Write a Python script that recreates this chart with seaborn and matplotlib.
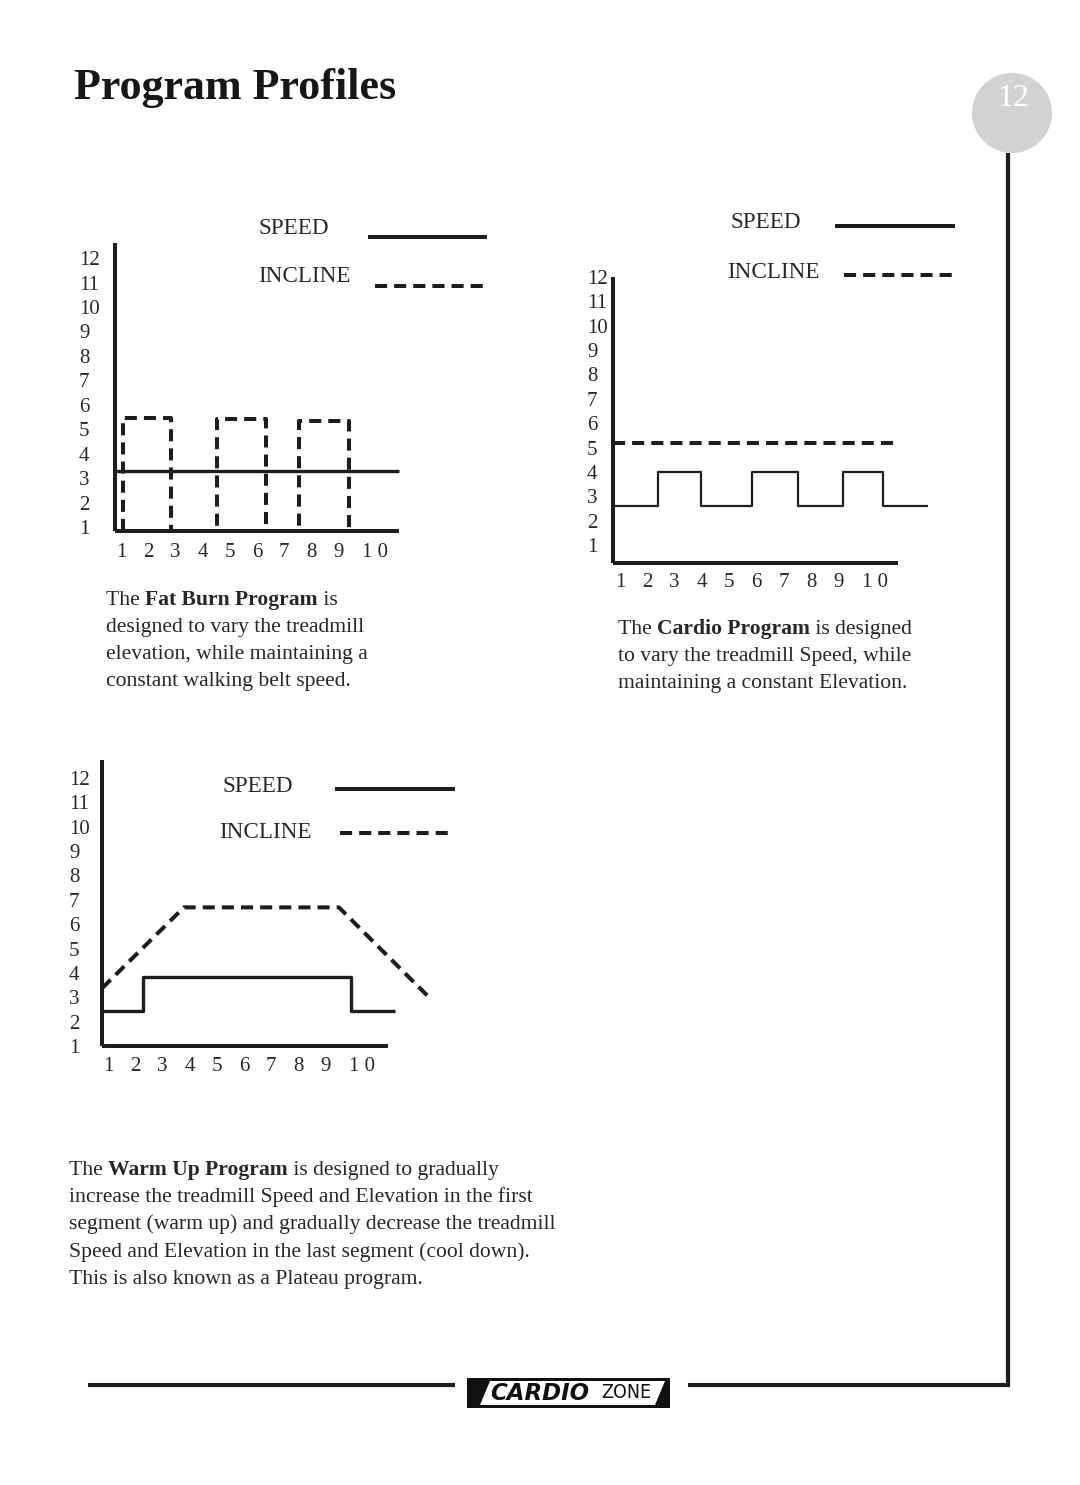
import numpy as np
import pandas as pd
import seaborn as sns
import matplotlib
matplotlib.use("Agg")
import matplotlib.pyplot as plt
import matplotlib.transforms as mtransforms
from matplotlib.lines import Line2D
from matplotlib.patches import Circle, Polygon, Rectangle

# ---------------- data ----------------
levels = list(range(1, 13))
level_labels = [str(v) for v in levels]
segments = list(range(1, 11))
segment_labels = ["1", "2", "3", "4", "5", "6", "7", "8", "9", "1 0"]

# Fat Burn: constant speed, incline pulses
fatburn_speed_x = [0.78, 11.22]
fatburn_speed_y = [3.29, 3.29]
fatburn_incline_x = [1.07, 1.07, 2.84, 2.84, 4.53, 4.53, 6.33, 6.33, 7.54, 7.54, 9.38, 9.38]
fatburn_incline_y = [0.84, 5.46, 5.46, 0.84, 0.84, 5.42, 5.42, 0.84, 0.84, 5.34, 5.34, 0.84]

# Cardio: speed intervals, constant incline
cardio_speed_x = [0.74, 2.39, 2.39, 3.97, 3.97, 5.84, 5.84, 7.52, 7.52, 9.17, 9.17, 10.63, 10.63, 12.28]
cardio_speed_y = [2.60, 2.60, 4.00, 4.00, 2.60, 2.60, 4.00, 4.00, 2.60, 2.60, 4.00, 4.00, 2.60, 2.60]
cardio_incline_x = [0.74, 11.18]
cardio_incline_y = [5.19, 5.19]

# Warm Up: plateau
warmup_speed_x = [0.78, 2.29, 2.29, 9.93, 9.93, 11.54]
warmup_speed_y = [2.43, 2.43, 3.82, 3.82, 2.43, 2.43]
warmup_incline_x = [0.78, 3.79, 9.49, 12.91]
warmup_incline_y = [3.37, 6.69, 6.69, 2.88]

# ---------------- setup ----------------
W, H = 1080, 1485
sns.set_theme(style="white")
plt.rcParams["font.family"] = ["Liberation Serif", "DejaVu Serif"]
INK = "#1e1c1c"
TXT = "#2a2626"

fig = plt.figure(figsize=(W / 100, H / 100), dpi=100)
fig.patch.set_facecolor("white")


def fx(px):
    return px / W


def fy(py):
    return 1 - py / H


DASH = (0, (3.0, 1.75))
TICK = 15


def make_axes(left, right, top, bottom, x1px, xstep, y1px, ystep, ypad_px, xpad_px):
    ax = fig.add_axes([fx(left), fy(bottom), (right - left) / W, (bottom - top) / H])
    ax.set_facecolor("none")
    ax.set_xlim(1 + (left - x1px) / xstep, 1 + (right - x1px) / xstep)
    ax.set_ylim(1 - (bottom - y1px) / ystep, 1 + (y1px - top) / ystep)
    for s in ["top", "right"]:
        ax.spines[s].set_visible(False)
    for s in ["left", "bottom"]:
        ax.spines[s].set_linewidth(2.9)
        ax.spines[s].set_color(INK)
        ax.spines[s].set_capstyle("butt")
    ax.set_yticks(levels)
    ax.set_yticklabels(level_labels)
    ax.set_xticks(segments)
    ax.set_xticklabels(segment_labels)
    ax.tick_params(axis="y", length=0, pad=ypad_px * 0.72, labelsize=TICK, labelcolor=TXT)
    ax.tick_params(axis="x", length=0, pad=xpad_px * 0.72, labelsize=TICK, labelcolor=TXT)
    for lab in ax.get_yticklabels():
        lab.set_ha("left")
    last = ax.get_xticklabels()[-1]
    last.set_ha("left")
    last.set_transform(last.get_transform() +
                       mtransforms.ScaledTranslation(-4 / 100, 0, fig.dpi_scale_trans))
    ax.grid(False)
    ax.set_xlabel("")
    ax.set_ylabel("")
    return ax


def series(ax, xs, ys, lw, dashed=False):
    df = pd.DataFrame({"segment": xs, "level": ys})
    kws = dict(linestyle=DASH) if dashed else dict(solid_capstyle="butt")
    sns.lineplot(data=df, x="segment", y="level", sort=False, estimator=None,
                 color=INK, linewidth=lw, clip_on=False, ax=ax, **kws)
    ax.set_xlabel("")
    ax.set_ylabel("")


LEG = 16.7


def legend_block(sx, sy, lx0, lx1, ly, ix, iy, dx0, dx1, dy):
    fig.text(fx(sx), fy(sy), "SPEED", fontsize=LEG, color=TXT, ha="left", va="center")
    fig.add_artist(Line2D([fx(lx0), fx(lx1)], [fy(ly), fy(ly)], color=INK, lw=2.9,
                          solid_capstyle="butt"))
    fig.text(fx(ix), fy(iy), "INCLINE", fontsize=LEG, color=TXT, ha="left", va="center")
    fig.add_artist(Line2D([fx(dx0), fx(dx1)], [fy(dy), fy(dy)], color=INK, lw=2.9,
                          linestyle=DASH))


# ---------------- chart 1: Fat Burn ----------------
ax1 = make_axes(115, 399, 243, 531, 121, 27.2, 527, 24.45, 36, 12)
series(ax1, fatburn_incline_x, fatburn_incline_y, 2.9, dashed=True)
series(ax1, fatburn_speed_x, fatburn_speed_y, 2.4)
legend_block(259, 228, 368, 487, 237, 258, 277, 375, 487, 286)

# ---------------- chart 2: Cardio ----------------
ax2 = make_axes(613, 898, 277, 563, 620, 27.3, 545, 24.36, 26, 10)
series(ax2, cardio_incline_x, cardio_incline_y, 2.9, dashed=True)
series(ax2, cardio_speed_x, cardio_speed_y, 1.6)
legend_block(730, 223, 835, 955, 226, 727, 272, 844, 955, 275)

# ---------------- chart 3: Warm Up ----------------
ax3 = make_axes(102, 388, 760, 1046, 108, 27.2, 1047, 24.45, 33, 11)
series(ax3, warmup_incline_x, warmup_incline_y, 2.9, dashed=True)
series(ax3, warmup_speed_x, warmup_speed_y, 2.4)
legend_block(222, 787, 335, 455, 789, 219, 833, 340, 450, 833)

# ---------------- page text ----------------
fig.text(fx(74), fy(99), "Program Profiles", fontsize=31.7, fontweight="bold",
         color="#1a1616", ha="left", va="baseline")

renderer = fig.canvas.get_renderer()


def text_width(s, weight, size):
    t = fig.text(0, 0, s, fontsize=size, fontweight=weight)
    w = t.get_window_extent(renderer=renderer).width
    t.remove()
    return w


BODY = 15.6


def rich_line(x, y, parts):
    cx = x
    for txt, wt in parts:
        fig.text(fx(cx), fy(y), txt, fontsize=BODY, fontweight=wt, color=TXT,
                 ha="left", va="baseline")
        cx += text_width("x" + txt + "x", wt, BODY) - text_width("xx", wt, BODY)


cap1 = [
    [("The ", "normal"), ("Fat Burn Program", "bold"), (" is", "normal")],
    [("designed to vary the treadmill", "normal")],
    [("elevation, while maintaining a", "normal")],
    [("constant walking belt speed.", "normal")],
]
for i, line in enumerate(cap1):
    rich_line(106, 605 + i * 27, line)

cap2 = [
    [("The ", "normal"), ("Cardio Program", "bold"), (" is designed", "normal")],
    [("to vary the treadmill Speed, while", "normal")],
    [("maintaining a constant Elevation.", "normal")],
]
for i, line in enumerate(cap2):
    rich_line(618, 634 + i * 27, line)

cap3 = [
    [("The ", "normal"), ("Warm Up Program", "bold"), (" is designed to gradually", "normal")],
    [("increase the treadmill Speed and Elevation in the first", "normal")],
    [("segment (warm up) and gradually decrease the treadmill", "normal")],
    [("Speed and Elevation in the last segment (cool down).", "normal")],
    [("This is also known as a Plateau program.", "normal")],
]
for i, line in enumerate(cap3):
    rich_line(69, 1175 + i * 27.2, line)

# ---------------- page furniture ----------------
fig.patches.append(Circle((10.12, (H - 113) / 100), 0.40, transform=fig.dpi_scale_trans,
                          facecolor="#d2d2d2", edgecolor="none", zorder=1))
fig.text(fx(1013), fy(99), "12", fontsize=23, color="white", ha="center", va="center")

fig.add_artist(Line2D([fx(1008), fx(1008)], [fy(153), fy(1387)], color=INK, lw=3.0,
                      solid_capstyle="butt"))
fig.add_artist(Line2D([fx(688), fx(1010)], [fy(1385), fy(1385)], color=INK, lw=3.0,
                      solid_capstyle="butt"))
fig.add_artist(Line2D([fx(88), fx(455)], [fy(1385), fy(1385)], color=INK, lw=3.0,
                      solid_capstyle="butt"))

# logo
fig.patches.append(Rectangle((fx(467), fy(1408)), fx(670) - fx(467), fy(1378) - fy(1408),
                             transform=fig.transFigure, facecolor="#111", edgecolor="none"))
fig.patches.append(Polygon([(fx(480), fy(1405)), (fx(490), fy(1381)), (fx(665), fy(1381)),
                            (fx(655), fy(1405))], closed=True, transform=fig.transFigure,
                           facecolor="white", edgecolor="none"))
fig.text(fx(490), fy(1393), "CARDIO", fontsize=16.5, fontweight="heavy", fontstyle="italic",
         family=["DejaVu Sans"], color="#111", ha="left", va="center")
fig.text(fx(601), fy(1393), "ZONE", fontsize=14,
         family=["Liberation Sans Narrow", "DejaVu Sans"],
         color="#111", ha="left", va="center", fontstretch="condensed")

fig.savefig("out.png", dpi=100, facecolor="white")
